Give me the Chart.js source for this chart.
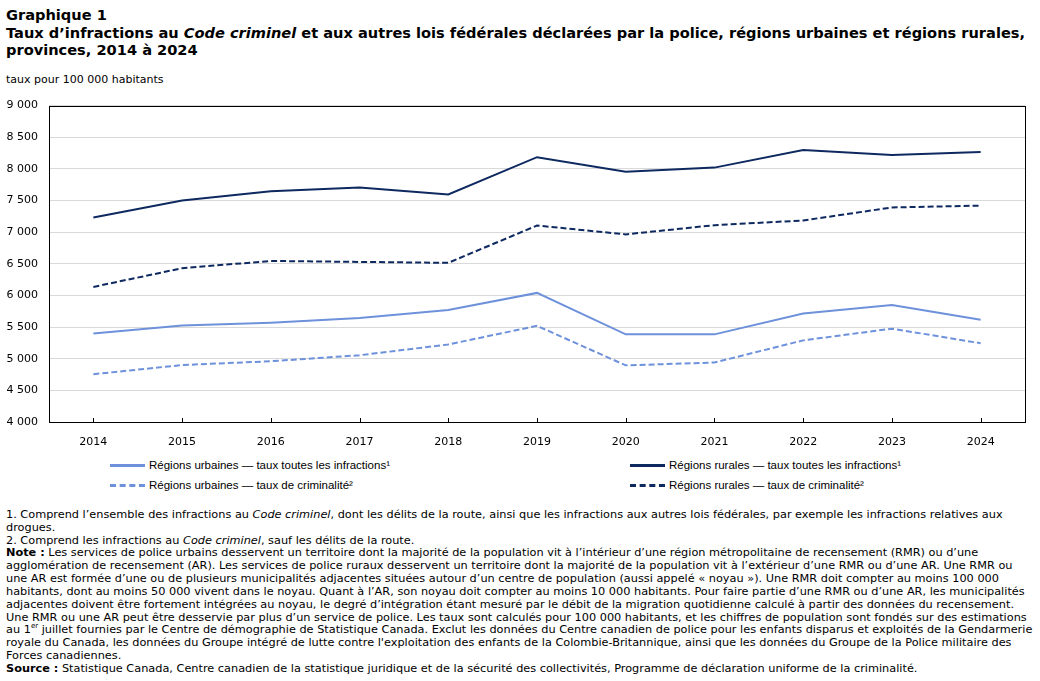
<!DOCTYPE html>
<html lang="fr">
<head>
<meta charset="utf-8">
<script src="https://cdn.jsdelivr.net/npm/chart.js@4"></script>
<style>
  body { margin: 0; background: #fff; width: 1040px; height: 681px; position: relative; overflow: hidden; font-family: "DejaVu Sans", Verdana, sans-serif; color: #000; }
  .titre { position: absolute; left: 6px; top: 6px; font-weight: bold; font-size: 14.6px; line-height: 17.5px; white-space: nowrap; }
  .unite { position: absolute; left: 6px; top: 73px; font-size: 11px; white-space: nowrap; }
  #wrap { position: absolute; left: 0; top: 88px; width: 1040px; height: 362px; }
  .legende { position: absolute; top: 457px; left: 0; width: 1040px; font-family: "Liberation Sans", Arial, sans-serif; font-size: 11.5px; }
  .item { position: absolute; white-space: nowrap; height: 16px; line-height: 16px; }
  .item span.trait { display: inline-block; width: 35px; vertical-align: middle; margin-right: 4px; }
  .notes { position: absolute; left: 6px; top: 509px; font-size: 11.3px; line-height: 12.83px; white-space: nowrap; }
  .notes sup { font-size: 7px; line-height: 0; }
</style>
</head>
<body>
<div class="titre">Graphique 1<br>Taux d’infractions au <i>Code criminel</i> et aux autres lois fédérales déclarées par la police, régions urbaines et régions rurales,<br>provinces, 2014 à 2024</div>
<div class="unite">taux pour 100 000 habitants</div>
<div id="wrap"><canvas id="graph" width="1040" height="362"></canvas></div>
<div class="legende" id="legende"></div>
<div class="notes">
1. Comprend l’ensemble des infractions au <i>Code criminel</i>, dont les délits de la route, ainsi que les infractions aux autres lois fédérales, par exemple les infractions relatives aux<br>
drogues.<br>
2. Comprend les infractions au <i>Code criminel</i>, sauf les délits de la route.<br>
<b>Note :</b> Les services de police urbains desservent un territoire dont la majorité de la population vit à l’intérieur d’une région métropolitaine de recensement (RMR) ou d’une<br>
agglomération de recensement (AR). Les services de police ruraux desservent un territoire dont la majorité de la population vit à l’extérieur d’une RMR ou d’une AR. Une RMR ou<br>
une AR est formée d’une ou de plusieurs municipalités adjacentes situées autour d’un centre de population (aussi appelé « noyau »). Une RMR doit compter au moins 100 000<br>
habitants, dont au moins 50 000 vivent dans le noyau. Quant à l’AR, son noyau doit compter au moins 10 000 habitants. Pour faire partie d’une RMR ou d’une AR, les municipalités<br>
adjacentes doivent être fortement intégrées au noyau, le degré d’intégration étant mesuré par le débit de la migration quotidienne calculé à partir des données du recensement.<br>
Une RMR ou une AR peut être desservie par plus d’un service de police. Les taux sont calculés pour 100 000 habitants, et les chiffres de population sont fondés sur des estimations<br>
au 1<sup>er</sup> juillet fournies par le Centre de démographie de Statistique Canada. Exclut les données du Centre canadien de police pour les enfants disparus et exploités de la Gendarmerie<br>
royale du Canada, les données du Groupe intégré de lutte contre l'exploitation des enfants de la Colombie-Britannique, ainsi que les données du Groupe de la Police militaire des<br>
Forces canadiennes.<br>
<b>Source :</b> Statistique Canada, Centre canadien de la statistique juridique et de la sécurité des collectivités, Programme de déclaration uniforme de la criminalité.
</div>
<script>
// données
const annees = ['2014', '2015', '2016', '2017', '2018', '2019', '2020', '2021', '2022', '2023', '2024'];
const urbainToutes = [5400, 5525, 5570, 5645, 5770, 6040, 5385, 5385, 5715, 5850, 5615];
const ruralToutes = [7230, 7500, 7645, 7705, 7595, 8185, 7955, 8020, 8300, 8220, 8265];
const urbainCrim = [4755, 4900, 4960, 5055, 5225, 5520, 4895, 4940, 5290, 5475, 5245];
const ruralCrim = [6135, 6430, 6545, 6530, 6515, 7105, 6965, 7110, 7185, 7390, 7420];
const yMin = 4000, yMax = 9000, yPas = 500;

const bleuPale = '#6e91db';
const marine = '#0e2960';

const series = [
  { label: 'Régions urbaines — taux toutes les infractions¹', data: urbainToutes, color: bleuPale, dash: [] },
  { label: 'Régions rurales — taux toutes les infractions¹', data: ruralToutes, color: marine, dash: [] },
  { label: 'Régions urbaines — taux de criminalité²', data: urbainCrim, color: bleuPale, dash: [6, 3] },
  { label: 'Régions rurales — taux de criminalité²', data: ruralCrim, color: marine, dash: [6, 3] }
];

// cadre noir + petites marques sur l'axe x
const cadre = {
  id: 'cadre',
  afterDraw(chart) {
    const c = chart.ctx, a = chart.chartArea, x = chart.scales.x;
    c.save();
    c.strokeStyle = '#000';
    c.lineWidth = 1;
    c.strokeRect(Math.round(a.left) + 0.5, Math.round(a.top) + 0.5, Math.round(a.right - a.left), Math.round(a.bottom - a.top));
    annees.forEach((_, i) => {
      const px = Math.round(x.getPixelForValue(i)) + 0.5;
      c.beginPath();
      c.moveTo(px, a.bottom);
      c.lineTo(px, a.bottom - 4);
      c.stroke();
    });
    c.restore();
  }
};

new Chart(document.getElementById('graph'), {
  type: 'line',
  data: {
    labels: annees,
    datasets: series.map(s => ({
      label: s.label,
      data: s.data,
      borderColor: s.color,
      backgroundColor: s.color,
      borderWidth: 2,
      borderDash: s.dash,
      pointRadius: 0,
      tension: 0
    }))
  },
  options: {
    responsive: false,
    animation: false,
    layout: { padding: { top: 6, right: 15, left: 0, bottom: 0 } },
    plugins: { legend: { display: false }, tooltip: { enabled: false } },
    scales: {
      x: {
        offset: true,
        grid: { display: false },
        border: { display: false },
        ticks: { color: '#000', font: { family: 'DejaVu Sans', size: 11 }, padding: 6, maxRotation: 0 },
        afterFit(scale) { scale.height = 28; }
      },
      y: {
        min: yMin,
        max: yMax,
        grid: { color: '#d9d9d9', drawTicks: false },
        border: { display: false },
        ticks: {
          stepSize: yPas,
          color: '#000',
          padding: 11,
          font: { family: 'DejaVu Sans', size: 11 },
          callback: v => String(v).replace(/\B(?=(\d{3})+(?!\d))/g, ' ')
        },
        afterFit(scale) { scale.width = 49; }
      }
    }
  },
  plugins: [cadre]
});

// légende en deux colonnes
const positions = [[110, 0], [630, 0], [110, 20], [630, 20]];
const leg = document.getElementById('legende');
series.forEach((s, i) => {
  const d = document.createElement('div');
  d.className = 'item';
  d.style.left = positions[i][0] + 'px';
  d.style.top = positions[i][1] + 'px';
  const t = document.createElement('span');
  t.className = 'trait';
  t.style.borderTop = '3px ' + (s.dash.length ? 'dashed ' : 'solid ') + s.color;
  d.appendChild(t);
  d.appendChild(document.createTextNode(s.label));
  leg.appendChild(d);
});
</script>
</body>
</html>
